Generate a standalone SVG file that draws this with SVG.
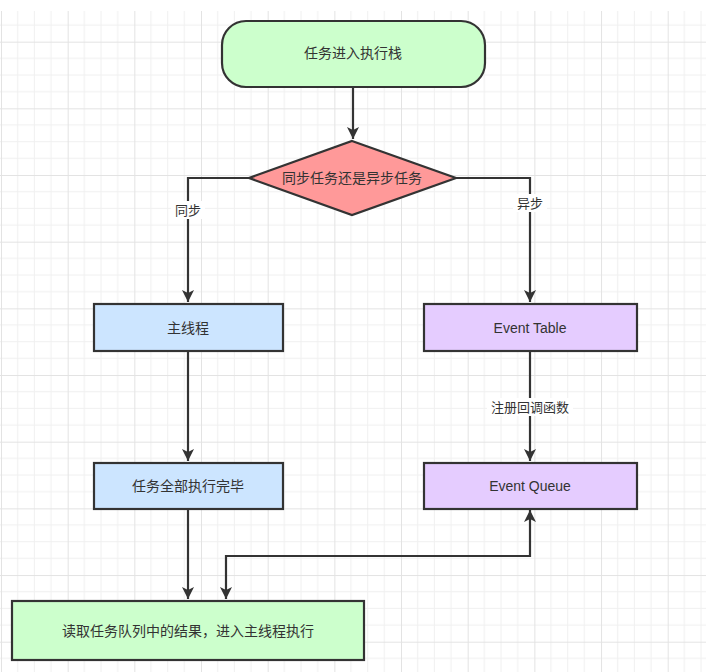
<svg xmlns="http://www.w3.org/2000/svg" width="706" height="672" viewBox="0 0 706 672">
<defs>
<pattern id="grid" x="1" y="-25" width="66.67" height="66.67" patternUnits="userSpaceOnUse">
<path d="M16.67 0V66.67M33.33 0V66.67M50 0V66.67M0 16.67H66.67M0 33.33H66.67M0 50H66.67" stroke="#f0f0f0" stroke-width="1" fill="none"/>
<path d="M0.5 0V66.67M0 0.5H66.67" stroke="#e3e3e3" stroke-width="1" fill="none"/>
</pattern>
<marker id="arr" viewBox="0 0 12 16" refX="12" refY="8" markerWidth="12" markerHeight="16" markerUnits="userSpaceOnUse" orient="auto">
<path d="M0 2L12 8L0 14L3 8Z" fill="#333"/>
</marker>
<marker id="arrs" viewBox="0 0 12 16" refX="0" refY="8" markerWidth="12" markerHeight="16" markerUnits="userSpaceOnUse" orient="auto">
<path d="M12 2L0 8L12 14L9 8Z" fill="#333"/>
</marker>
</defs>
<style>
.n{stroke:#333;stroke-width:2.2}
.t{font-family:"Liberation Sans","Noto Sans CJK SC",sans-serif;font-size:14px;fill:#333;text-anchor:middle;dominant-baseline:central}
.c{stroke:#333;stroke-width:2.2;fill:none}
.lbl{font-family:"Liberation Sans","Noto Sans CJK SC",sans-serif;font-size:13px;fill:#333;text-anchor:middle;dominant-baseline:central}
</style>
<rect width="706" height="672" fill="#fff"/>
<rect x="0" y="11" width="706" height="661" fill="url(#grid)"/>
<g id="connectors">
<path class="c" d="M353 87V139" marker-end="url(#arr)"/>
<path class="c" d="M249 178H188V302" marker-end="url(#arr)"/>
<path class="c" d="M456 178H530V302" marker-end="url(#arr)"/>
<path class="c" d="M188 351V461" marker-end="url(#arr)"/>
<path class="c" d="M530 351V461" marker-end="url(#arr)"/>
<path class="c" d="M188 509V599" marker-end="url(#arr)"/>
<path class="c" d="M226 599V556H530V510" marker-end="url(#arr)" marker-start="url(#arrs)"/>
<rect x="171" y="201" width="34" height="18" fill="#fff"/>
<text class="lbl" x="188" y="210">同步</text>
<rect x="513" y="194" width="34" height="18" fill="#fff"/>
<text class="lbl" x="530" y="203">异步</text>
<rect x="487" y="398" width="86" height="18" fill="#fff"/>
<text class="lbl" x="530" y="407">注册回调函数</text>
</g>
<g id="start">
<rect class="n" x="222" y="21" width="263" height="66" rx="24" fill="#ccffcc"/>
<text class="t" x="353" y="53">任务进入执行栈</text>
</g>
<g id="decision">
<path class="n" d="M352 141L456 178L352 215L249 178Z" fill="#ff9999"/>
<text class="t" x="352" y="178">同步任务还是异步任务</text>
</g>
<g id="mainthread">
<rect class="n" x="94" y="304" width="189" height="47" fill="#cce5ff"/>
<text class="t" x="188" y="328">主线程</text>
</g>
<g id="eventtable">
<rect class="n" x="424" y="304" width="213" height="47" fill="#e5ccff"/>
<text class="t" x="530" y="328">Event Table</text>
</g>
<g id="alldone">
<rect class="n" x="94" y="463" width="189" height="46" fill="#cce5ff"/>
<text class="t" x="188" y="486">任务全部执行完毕</text>
</g>
<g id="eventqueue">
<rect class="n" x="424" y="463" width="213" height="46" fill="#e5ccff"/>
<text class="t" x="530" y="486">Event Queue</text>
</g>
<g id="readresult">
<rect class="n" x="12" y="601" width="352" height="59" fill="#ccffcc"/>
<text class="t" x="188" y="631">读取任务队列中的结果，进入主线程执行</text>
</g>
</svg>
